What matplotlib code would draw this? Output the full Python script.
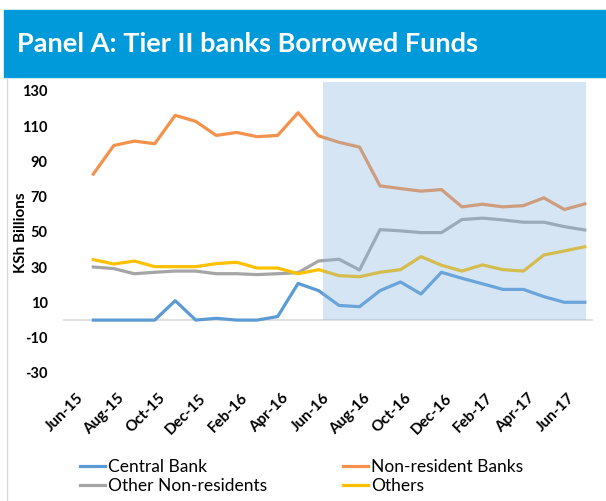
import numpy as np
import matplotlib
matplotlib.use("Agg")
import matplotlib.pyplot as plt
import matplotlib.transforms as mtransforms
from matplotlib.patches import Rectangle
from matplotlib.lines import Line2D

plt.rcParams['font.family'] = ['Lato', 'DejaVu Sans']

months = ["Jun-15", "Jul-15", "Aug-15", "Sep-15", "Oct-15", "Nov-15", "Dec-15",
          "Jan-16", "Feb-16", "Mar-16", "Apr-16", "May-16", "Jun-16", "Jul-16",
          "Aug-16", "Sep-16", "Oct-16", "Nov-16", "Dec-16", "Jan-17", "Feb-17",
          "Mar-17", "Apr-17", "May-17", "Jun-17"]

central_bank = [0, 0, 0, 0, 11.0, 0, 1.0, 0, 0, 2.0, 20.8, 16.7, 8.3,
                7.6, 16.7, 21.6, 14.8, 27.1, 23.7, 20.6, 17.4, 17.4, 13.3, 10.1, 10.1]
non_resident_banks = [82.8, 99.0, 101.5, 100.0, 116.1, 112.7, 104.7, 106.4, 104.0,
                      104.7, 117.6, 104.5, 100.8, 98.1, 76.1, 74.6, 73.1, 74.0,
                      64.2, 65.7, 64.2, 64.9, 69.3, 62.7, 65.9]
other_non_residents = [30.1, 29.2, 26.3, 27.1, 27.8, 27.8, 26.3, 26.3, 25.8, 26.3,
                       26.9, 33.5, 34.5, 28.4, 51.3, 50.6, 49.6, 49.6, 57.0, 57.8,
                       56.8, 55.5, 55.5, 53.0, 51.1]
others = [34.3, 31.8, 33.5, 30.3, 30.3, 30.3, 32.0, 32.8, 29.5, 29.5, 26.3, 28.6,
          25.2, 24.6, 27.1, 28.6, 36.0, 31.1, 27.8, 31.3, 28.6, 27.8, 36.9, 39.2, 41.6]

# shaded period (category positions)
shade_start = 11.2
shade_end = 24.07

yticks = [-30, -10, 10, 30, 50, 70, 90, 110, 130]

x = np.arange(len(months))

fig = plt.figure(figsize=(6.06, 5.01), dpi=100)

# title banner
fig.patches.append(Rectangle((4 / 606, 1 - 77 / 501), 1, 67 / 501,
                             transform=fig.transFigure, color='#009ADA', zorder=0))
fig.text(17 / 606, 1 - 44 / 501, "Panel A: Tier II banks Borrowed Funds",
         color='white', fontsize=19.5, fontweight='bold', va='center', ha='left')
fig.add_artist(Line2D([7 / 606, 7 / 606], [0, 1 - 78 / 501],
                      transform=fig.transFigure, color='#D9D9D9', lw=1))

ax = fig.add_axes([63 / 606, 1 - 373 / 501, 530 / 606, 291 / 501])

lw = 2.3
l1, = ax.plot(x, central_bank, color='#5B9BD5', lw=lw, label='Central Bank', zorder=3)
l2, = ax.plot(x, non_resident_banks, color='#F4914A', lw=lw, label='Non-resident Banks', zorder=3)
l3, = ax.plot(x, other_non_residents, color='#A5A5A5', lw=lw, label='Other Non-residents', zorder=3)
l4, = ax.plot(x, others, color='#FFC000', lw=lw, label='Others', zorder=3)

ax.axhline(0, color='#D9D9D9', lw=1.2, zorder=2)
ax.axvspan(shade_start, shade_end, ymin=30 / 165, ymax=1, color='#87B5E0', alpha=0.35,
           lw=0, zorder=4)

ax.set_xlim(-1.48, 24.4)
ax.set_ylim(-30, 135)
ax.set_yticks(yticks)
ax.set_yticklabels([str(v) for v in yticks], fontsize=10.5, fontweight='bold')
ax.set_xticks(x[::2])
ax.set_xticklabels(months[::2], fontsize=11, fontweight='bold', rotation=45,
                   ha='right', va='center', rotation_mode='anchor')
ax.tick_params(axis='both', length=0)
ax.tick_params(axis='x', pad=0)
ax.tick_params(axis='y', pad=11)
offset = mtransforms.ScaledTranslation(-12 / 100, -23 / 100, fig.dpi_scale_trans)
for lab in ax.get_xticklabels():
    lab.set_transform(lab.get_transform() + offset)
for s in ax.spines.values():
    s.set_visible(False)

fig.text(21 / 606, 1 - 233 / 501, "KSh Billions", rotation=90, fontsize=11,
         fontweight='bold', ha='center', va='center')

fig.legend(handles=[l1, l3, l2, l4], loc='upper left', ncol=2,
           bbox_to_anchor=(80 / 606, 1 - 459 / 501), frameon=False, fontsize=12.5,
           handlelength=1.45, handletextpad=0.15, columnspacing=4.4, labelspacing=0.2,
           borderpad=0, borderaxespad=0)

fig.savefig("out.png", dpi=100)
